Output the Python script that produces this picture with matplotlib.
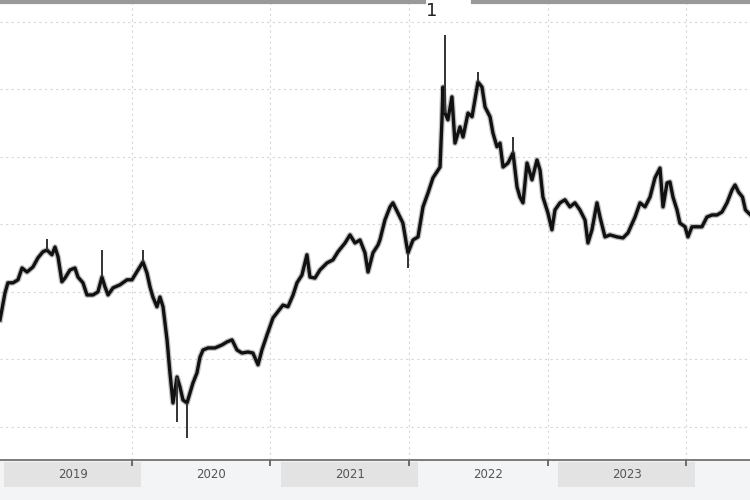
import matplotlib
matplotlib.use("Agg")
import matplotlib.pyplot as plt
from matplotlib.patches import Rectangle
from matplotlib.lines import Line2D
from matplotlib.transforms import blended_transform_factory

# time as fractional years, price
t = [2018.975, 2019.011, 2019.032, 2019.069, 2019.105, 2019.134, 2019.170, 2019.213,
     2019.249, 2019.285, 2019.314, 2019.350, 2019.372, 2019.394, 2019.422, 2019.444,
     2019.480, 2019.516, 2019.538, 2019.574, 2019.603, 2019.646, 2019.682, 2019.711,
     2019.733, 2019.755, 2019.791, 2019.841, 2019.892, 2019.928, 2019.971, 2020.007,
     2020.036, 2020.058, 2020.079, 2020.108, 2020.130, 2020.152, 2020.181, 2020.202,
     2020.224, 2020.253, 2020.274, 2020.296, 2020.325, 2020.347, 2020.368, 2020.397,
     2020.419, 2020.441, 2020.477, 2020.527, 2020.578, 2020.614, 2020.650, 2020.686,
     2020.722, 2020.765, 2020.801, 2020.838, 2020.866, 2020.903, 2020.946, 2021.018,
     2021.054, 2021.091, 2021.119, 2021.155, 2021.191, 2021.213, 2021.249, 2021.285,
     2021.336, 2021.379, 2021.415, 2021.466, 2021.502, 2021.538, 2021.574, 2021.610,
     2021.632, 2021.668, 2021.704, 2021.718, 2021.754, 2021.791, 2021.812, 2021.848,
     2021.884, 2021.913, 2021.921, 2021.957, 2021.993, 2022.029, 2022.065, 2022.101,
     2022.130, 2022.152, 2022.166, 2022.173, 2022.188, 2022.209, 2022.238, 2022.260,
     2022.296, 2022.318, 2022.354, 2022.383, 2022.404, 2022.426, 2022.455, 2022.477,
     2022.513, 2022.534, 2022.563, 2022.585, 2022.607, 2022.643, 2022.679, 2022.708,
     2022.729, 2022.751, 2022.780, 2022.816, 2022.852, 2022.874, 2022.895, 2022.931,
     2022.960, 2022.982, 2023.018, 2023.054, 2023.090, 2023.126, 2023.162, 2023.199,
     2023.220, 2023.249, 2023.285, 2023.307, 2023.343, 2023.379, 2023.430, 2023.473,
     2023.509, 2023.560, 2023.596, 2023.632, 2023.668, 2023.704, 2023.740, 2023.762,
     2023.791, 2023.812, 2023.834, 2023.863, 2023.884, 2023.921, 2023.942, 2023.971,
     2024.007, 2024.043, 2024.079, 2024.116, 2024.152, 2024.188, 2024.224, 2024.260,
     2024.282, 2024.307, 2024.336, 2024.357, 2024.394]
price = [51.7, 59.7, 62.7, 62.7, 63.6, 67.1, 65.9, 67.4,
         70.1, 71.9, 72.4, 71.0, 73.3, 70.4, 63.0, 64.1,
         66.5, 67.1, 64.4, 62.7, 59.1, 59.1, 60.0, 64.4,
         61.5, 59.1, 61.2, 62.1, 63.6, 63.6, 66.5, 68.9,
         65.6, 61.5, 58.5, 55.6, 58.5, 55.6, 45.8, 36.0,
         27.1, 34.8, 31.9, 28.0, 27.1, 30.1, 33.0, 36.0,
         40.7, 42.8, 43.4, 43.4, 44.3, 45.2, 45.8, 42.8,
         41.9, 42.2, 41.9, 38.4, 42.8, 47.3, 52.3, 56.1,
         55.6, 59.1, 62.7, 65.0, 71.0, 64.4, 64.1, 66.5,
         68.6, 69.5, 71.9, 74.5, 76.9, 74.5, 75.4, 71.6,
         65.9, 71.6, 73.9, 75.4, 81.3, 85.2, 86.4, 83.4,
         80.4, 73.3, 71.6, 75.4, 76.3, 85.2, 89.3, 93.8,
         95.6, 97.0, 111.0, 120.7, 113.0, 111.0, 117.8, 104.1,
         108.9, 105.9, 113.0, 111.9, 116.9, 122.2, 120.7, 114.8,
         111.9, 107.1, 103.0, 104.1, 97.0, 98.2, 101.2, 91.1,
         88.1, 86.4, 98.2, 93.2, 99.1, 96.1, 88.1, 83.4,
         78.4, 84.3, 86.4, 87.3, 85.2, 86.4, 84.3, 81.3,
         74.5, 78.4, 86.4, 82.2, 76.3, 76.9, 76.3, 76.0,
         77.5, 82.2, 86.4, 85.2, 88.1, 93.8, 96.7, 85.2,
         92.3, 92.6, 88.1, 84.3, 80.4, 79.3, 76.3, 79.3,
         79.3, 79.3, 82.2, 82.8, 82.8, 83.7, 86.4, 90.2,
         91.7, 89.6, 88.1, 84.3, 82.8]

# intraday extremes that stick out of the line
spike_t = [2019.314, 2019.711, 2020.007, 2020.253, 2020.325, 2021.921, 2022.188, 2022.426, 2022.679]
spike_from = [72.4, 64.4, 68.9, 34.8, 27.1, 71.6, 113.0, 122.2, 101.2]
spike_to = [75.7, 72.4, 72.4, 21.5, 16.7, 67.1, 136.1, 125.2, 105.9]

years = [2019, 2020, 2021, 2022, 2023]
grid_x = [2019.928, 2020.928, 2021.928, 2022.928, 2023.928]
grid_y = [20, 40, 60, 80, 100, 120, 140]

fig = plt.figure(figsize=(7.5, 5), dpi=100, facecolor="#f3f4f6")
ax = fig.add_axes([0, 0.08, 1, 0.92])
ax.set_facecolor("white")

# grey halo for the daily range, black line on top
ax.plot(t, price, color="#777777", lw=4.2, alpha=0.45, solid_joinstyle="round")
ax.plot(t, price, color="#111111", lw=2.4, solid_joinstyle="round")
ax.vlines(spike_t, spike_from, spike_to, color="#333333", lw=1.4)

ax.set_xlim(2018.975, 2024.39)
ax.set_ylim(10.2, 146.5)

for gx in grid_x:
    ax.axvline(gx, color="#d6d6d6", lw=0.8, ls=(0, (2, 3)), zorder=0)
for gy in grid_y:
    ax.axhline(gy, color="#d6d6d6", lw=0.8, ls=(0, (2, 3)), zorder=0)

for s in ["top", "left", "right"]:
    ax.spines[s].set_visible(False)
ax.spines["bottom"].set_color("#666666")
ax.spines["bottom"].set_linewidth(1.2)
ax.set_xticks(grid_x)
ax.set_xticklabels([])
ax.set_yticks([])
ax.tick_params(axis="x", direction="out", length=4, width=1.2, color="#555555")

# year bands under the axis
tr = blended_transform_factory(ax.transData, fig.transFigure)
for i, yr in enumerate(years):
    if i % 2 == 0:
        ax.add_patch(Rectangle((yr + 0.005, 0.026), 0.99, 0.05, transform=tr,
                               facecolor="#e3e3e3", edgecolor="none", clip_on=False))
    ax.text(yr + 0.5, 0.052, str(yr), transform=tr, ha="center", va="center",
            fontsize=8.5, color="#555555", clip_on=False)

# top border with the marker label
fig.add_artist(Line2D([0, 0.566], [0.996, 0.996], color="#999999", lw=3))
fig.add_artist(Line2D([0.631, 1], [0.996, 0.996], color="#999999", lw=3))
fig.text(432 / 750, 0.978, "1", ha="center", va="center", fontsize=13, color="#222222")

fig.savefig("out.png", dpi=100, facecolor=fig.get_facecolor())
